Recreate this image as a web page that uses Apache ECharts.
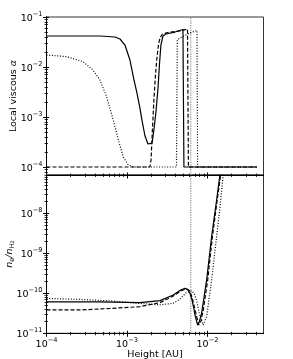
<!DOCTYPE html>
<html><head><meta charset="utf-8">
<script src="https://cdn.jsdelivr.net/npm/echarts@6.0.0/dist/echarts.min.js"></script>
<style>html,body{margin:0;padding:0;background:#fff}#c{width:293px;height:359px}</style>
</head><body><div id="c"></div>
<script>
// ---- data ----
const alphaSolidX = [1e-4, 4.62e-4, 7.1e-4, 8.19e-4, 9.44e-4, 1.089e-3, 1.222e-3, 1.331e-3, 1.449e-3, 1.535e-3, 1.674e-3, 1.824e-3, 1.93e-3, 2.05e-3, 2.16e-3, 2.29e-3, 2.43e-3, 2.53e-3, 2.64e-3, 2.80e-3, 3.05e-3, 3.94e-3, 4.96e-3, 5.1e-3, 0.0412];
const alphaSolidY = [0.0417, 0.0417, 0.0398, 0.0363, 0.0275, 0.0138, 5.5e-3, 3.0e-3, 1.51e-3, 8.7e-4, 4.17e-4, 2.88e-4, 2.63e-4, 3.0e-4, 5.5e-4, 1.26e-3, 3.8e-3, 0.011, 0.0275, 0.0417, 0.0457, 0.050, 0.0562, 1e-4, 1e-4];

const alphaDashX = [1e-4, 1.93e-3, 1.99e-3, 2.07e-3, 2.16e-3, 2.26e-3, 2.36e-3, 2.46e-3, 2.57e-3, 2.76e-3, 3.42e-3, 4.55e-3, 5.65e-3, 5.8e-3, 0.0412];
const alphaDashY = [1e-4, 1e-4, 1.38e-4, 5.5e-4, 2.19e-3, 6.9e-3, 0.0158, 0.0275, 0.038, 0.0457, 0.050, 0.0525, 0.0575, 1e-4, 1e-4];

const alphaDotX = [1e-4, 1.78e-4, 2.84e-4, 3.78e-4, 4.62e-4, 5.6e-4, 6.76e-4, 7.8e-4, 9.0e-4, 1.04e-3, 1.20e-3, 4.12e-3, 4.22e-3, 4.55e-3, 6.06e-3, 7.41e-3, 7.54e-3, 0.0412];
const alphaDotY = [0.0174, 0.0161, 0.0128, 8.7e-3, 5.5e-3, 2.5e-3, 8.7e-4, 3.5e-4, 1.58e-4, 1.10e-4, 1e-4, 1e-4, 0.0347, 0.038, 0.048, 0.0537, 1e-4, 1e-4];

const neSolidX = [1e-4, 4.62e-4, 1.449e-3, 2.57e-3, 3.76e-3, 4.55e-3, 5.25e-3, 5.72e-3, 6.06e-3, 6.42e-3, 6.70e-3, 7.0e-3, 7.55e-3, 7.9e-3, 8.47e-3, 9.77e-3, 1.127e-2, 1.30e-2, 1.43e-2, 1.49e-2];
const neSolidY = [6.05e-11, 6.05e-11, 5.82e-11, 6.53e-11, 9.06e-11, 1.175e-10, 1.33e-10, 1.21e-10, 1.0e-10, 6.8e-11, 4.55e-11, 2.88e-11, 1.6e-11, 1.92e-11, 3.2e-11, 2.15e-10, 2.6e-9, 2.1e-8, 9.1e-8, 1.9e-7];

const neDashX = [1e-4, 2.61e-4, 6.15e-4, 1.449e-3, 2.57e-3, 3.76e-3, 4.55e-3, 5.48e-3, 5.97e-3, 6.42e-3, 6.79e-3, 7.3e-3, 7.84e-3, 8.3e-3, 8.87e-3, 1.007e-2, 1.153e-2, 1.32e-2, 1.46e-2, 1.51e-2];
const neDashY = [3.82e-11, 3.82e-11, 4.17e-11, 4.62e-11, 5.82e-11, 8.5e-11, 1.11e-10, 1.29e-10, 1.15e-10, 8.1e-11, 5.1e-11, 2.7e-11, 1.6e-11, 2.04e-11, 3.8e-11, 2.15e-10, 2.6e-9, 2.1e-8, 9.1e-8, 1.9e-7];

const neDotX = [1e-4, 2.61e-4, 6.15e-4, 1.449e-3, 2.57e-3, 3.76e-3, 4.55e-3, 5.41e-3, 6.37e-3, 6.9e-3, 7.41e-3, 7.96e-3, 8.87e-3, 9.77e-3, 1.127e-2, 1.30e-2, 1.43e-2, 1.556e-2, 1.60e-2];
const neDotY = [7.41e-11, 7.0e-11, 6.45e-11, 5.56e-11, 5.13e-11, 5.62e-11, 7.08e-11, 1.02e-10, 1.15e-10, 9.5e-11, 6.0e-11, 3.0e-11, 1.6e-11, 2.6e-11, 2.15e-10, 2.6e-9, 1.35e-8, 7.6e-8, 1.6e-7];

const vLineX = 6.2e-3;

// tick values (decades) and axis ranges
const xTicks = [1e-4, 1e-3, 1e-2];
const alphaTicks = [1e-4, 1e-3, 1e-2, 1e-1];
const neTicks = [1e-11, 1e-10, 1e-9, 1e-8];
const xRange = [1e-4, 0.0497];
const alphaRange = [6.92e-5, 0.1];
const neRange = [1e-11, 8.9e-8];

// ---- helpers: log-decade axes built on ECharts value axes of log10(value) ----
const L = Math.log10;
function minorTicks(lo, hi) {
  const out = [];
  for (let e = -12; e <= 0; e++) {
    for (let k = 2; k <= 9; k++) {
      const v = k * Math.pow(10, e);
      if (v > lo && v < hi) out.push(L(v));
    }
  }
  return out;
}
function zip(xs, ys) { return xs.map((x, i) => [L(x), L(ys[i])]); }
const FONT = 'DejaVu Sans';
const rich = {
  b: { fontSize: 9.5, fontFamily: FONT, color: '#000', lineHeight: 13, verticalAlign: 'bottom' },
  e: { fontSize: 6.6, fontFamily: FONT, color: '#000', lineHeight: 7, verticalAlign: 'top' }
};
function powFmt(v) {
  const n = Math.round(v);
  return '{b|10}{e|' + (n < 0 ? '\u2212' + (-n) : n) + '}';
}
const AX = { show: true, onZero: false, lineStyle: { color: '#000', width: 0.8 } };
function tick(values, inside, len, w) {
  return { show: true, inside: inside, length: len, customValues: values, lineStyle: { color: '#000', width: w } };
}
// 4 axes per dimension: labels + outward major ticks, inward major ticks, outward minor, inward minor
function axisSet(dim, grid, range, majors, showLabels, extra) {
  const pos = dim === 'x' ? 'bottom' : 'left';
  const lo = L(range[0]), hi = L(range[1]);
  const majorLog = majors.map(L);
  const minorLog = minorTicks(range[0], range[1]);
  const base = { type: 'value', gridIndex: grid, min: lo, max: hi, position: pos,
    splitLine: { show: false }, axisLine: AX };
  const A = Object.assign({}, base, {
    axisTick: tick(majorLog, false, 3.5, 1),
    axisLabel: showLabels ? { show: true, customValues: majorLog, formatter: powFmt, rich: rich, margin: dim === 'x' ? 3 : 4 }
                          : { show: false }
  }, extra || {});
  const B = Object.assign({}, base, { axisLabel: { show: false }, axisTick: tick(majorLog, true, 2.5, 1) });
  const C = Object.assign({}, base, { axisLabel: { show: false }, axisTick: tick(minorLog, false, 2, 0.8) });
  const D = Object.assign({}, base, { axisLabel: { show: false }, axisTick: tick(minorLog, true, 1.5, 0.8) });
  return [A, B, C, D];
}

const gridStyle = { show: true, borderColor: '#000', borderWidth: 0.8, backgroundColor: 'transparent', outerBoundsMode: 'none', containLabel: false };
const grids = [
  Object.assign({ left: 46.5, top: 17, width: 217, height: 158 }, gridStyle),
  Object.assign({ left: 46.5, top: 175, width: 217, height: 158.3 }, gridStyle)
];

const xAxes = axisSet('x', 0, xRange, xTicks, false)
  .concat(axisSet('x', 1, xRange, xTicks, true, {
    name: 'Height [AU]', nameLocation: 'middle', nameGap: 16, nameMoveOverlap: false,
    nameTextStyle: { fontSize: 9.5, fontFamily: FONT, color: '#000' }
  }));
const yAxes = axisSet('y', 0, alphaRange, alphaTicks, true, {
    name: '{t|Local viscous }{a|\u03b1}', nameLocation: 'middle', nameGap: 28, nameMoveOverlap: false,
    nameTextStyle: { rich: {
      t: { fontSize: 9.5, fontFamily: FONT, color: '#000' },
      a: { fontSize: 9.5, fontFamily: FONT, fontStyle: 'italic', color: '#000' } } }
  })
  .concat(axisSet('y', 1, neRange, neTicks, true, {
    name: '{i|n}{s|e}{i|/n}{s|H}{ss|2}', nameLocation: 'middle', nameGap: 31, nameMoveOverlap: false,
    nameTextStyle: { rich: {
      i: { fontSize: 9.5, fontFamily: FONT, fontStyle: 'italic', color: '#000', lineHeight: 11, verticalAlign: 'top' },
      s: { fontSize: 6.6, fontFamily: FONT, color: '#000', lineHeight: 7, verticalAlign: 'bottom' },
      ss: { fontSize: 5, fontFamily: FONT, color: '#000', lineHeight: 5, verticalAlign: 'bottom' } } }
  }));

const LW = 1.2;
function line(data, xi, yi, type, color, width, z) {
  return {
    type: 'line', data: data, xAxisIndex: xi, yAxisIndex: yi, symbol: 'none', showSymbol: false,
    lineStyle: { color: color || '#000', width: width || LW, type: type }, silent: true, animation: false, clip: true, z: z || 3
  };
}
function vline(range) { return zip([vLineX, vLineX], [range[0], range[1]]); }

// axes 0-3 belong to the top grid, 4-7 to the bottom grid; each is bound to a series
const option = {
  animation: false,
  backgroundColor: '#fff',
  grid: grids,
  xAxis: xAxes,
  yAxis: yAxes,
  series: [
    line(vline(alphaRange), 1, 1, [1.2, 1.2], '#8c8c8c', 1.2, 2),
    line(zip(alphaSolidX, alphaSolidY), 0, 0, 'solid'),
    line(zip(alphaDashX, alphaDashY), 2, 2, [4, 2]),
    line(zip(alphaDotX, alphaDotY), 3, 3, [1, 1.7]),
    line(vline(neRange), 5, 5, [1.2, 1.2], '#8c8c8c', 1.2, 2),
    line(zip(neSolidX, neSolidY), 4, 4, 'solid'),
    line(zip(neDashX, neDashY), 6, 6, [4, 2]),
    line(zip(neDotX, neDotY), 7, 7, [1, 1.7])
  ]
};
const chart = echarts.init(document.getElementById('c'), null, { renderer: 'canvas' });
chart.setOption(option);
</script>
</body></html>
